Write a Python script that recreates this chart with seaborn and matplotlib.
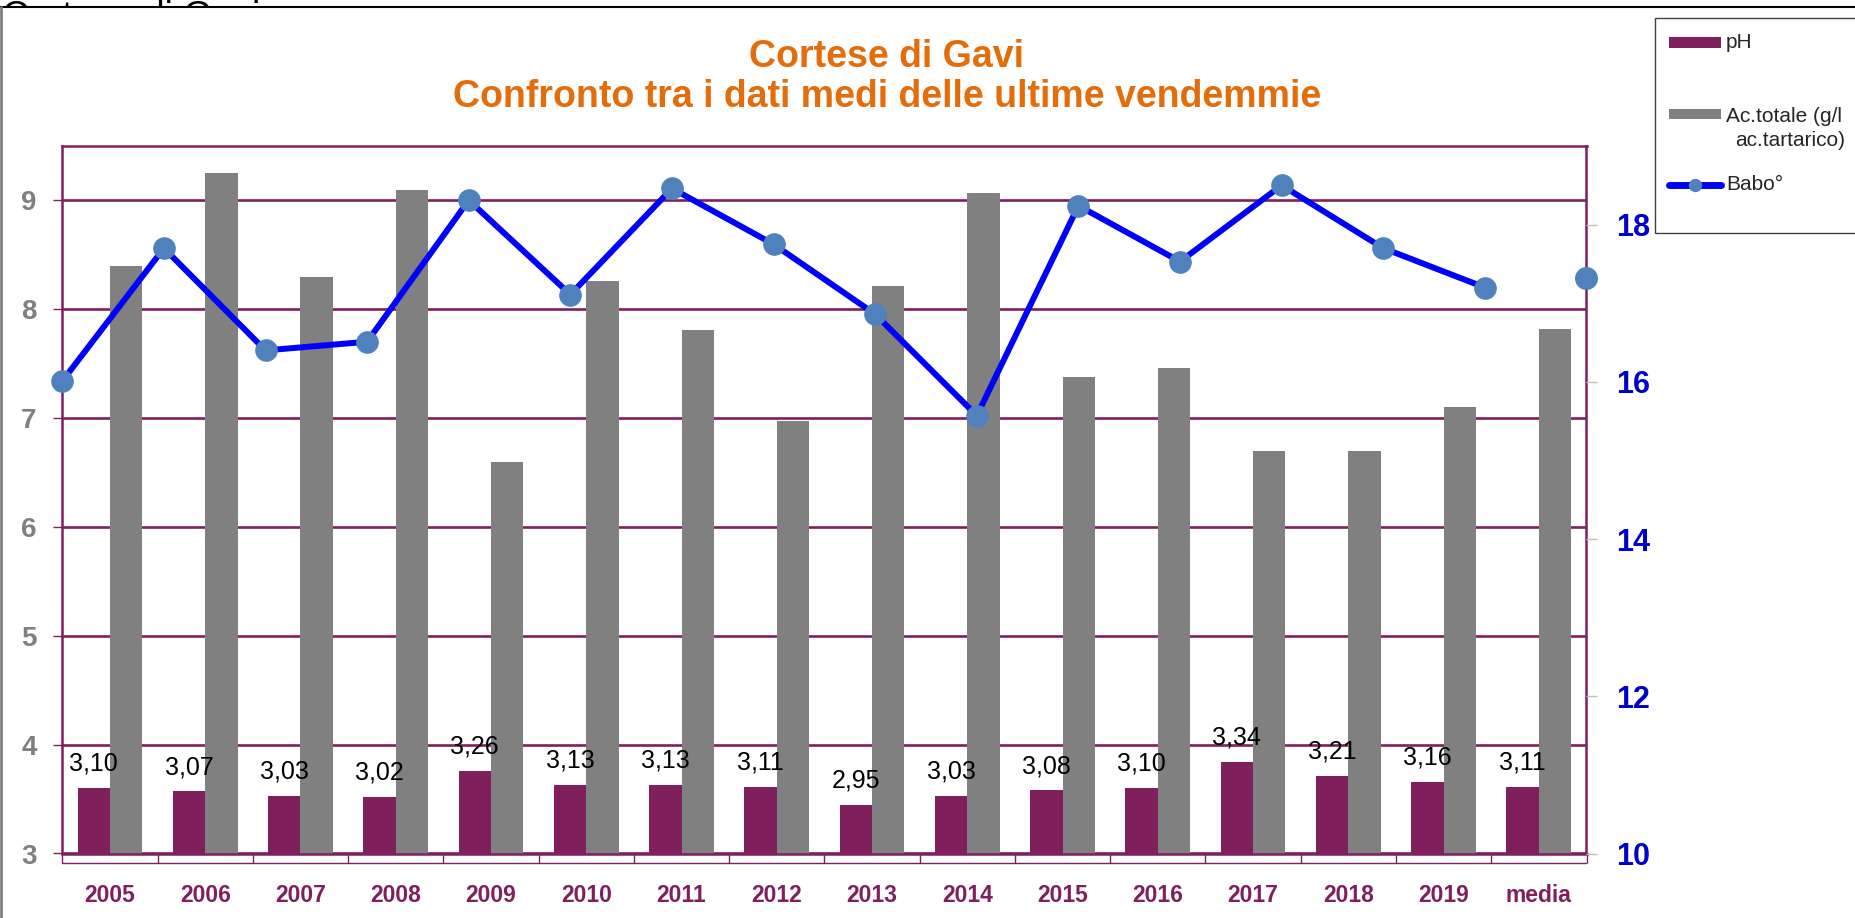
import matplotlib
matplotlib.use('Agg')
import matplotlib.pyplot as plt
import matplotlib.transforms as mtransforms
from matplotlib.lines import Line2D
from matplotlib.patches import Rectangle
import seaborn as sns
import pandas as pd

# ---------------- data ----------------
years = ['2005', '2006', '2007', '2008', '2009', '2010', '2011', '2012',
         '2013', '2014', '2015', '2016', '2017', '2018', '2019', 'media']
ph = [3.10, 3.07, 3.03, 3.02, 3.26, 3.13, 3.13, 3.11,
      2.95, 3.03, 3.08, 3.10, 3.34, 3.21, 3.16, 3.11]
acidita = [8.40, 9.25, 8.30, 9.10, 6.60, 8.26, 7.81, 6.97,
           8.21, 9.07, 7.38, 7.46, 6.70, 6.70, 7.10, 7.82]
babo = [16.01, 17.70, 16.40, 16.51, 18.31, 17.11, 18.46, 17.75,
        16.86, 15.57, 18.24, 17.53, 18.50, 17.70, 17.20, 17.32]
ph_baseline = 0.5          # pH bars in the original sit on a raised baseline
left_ticks = [3, 4, 5, 6, 7, 8, 9]
right_ticks = [10, 12, 14, 16, 18]
series_names = ['pH', 'Ac.totale (g/l ac.tartarico)']

# ---------------- style ----------------
PURPLE = '#7F1F5C'
GREY = '#808080'
BLUE = '#0000FF'
MARK = '#4F81BD'
ORANGE = '#E46C0A'
W, H, DPI = 1856, 918, 100

sns.set_style('white')
plt.rcParams['font.family'] = ['Liberation Sans', 'DejaVu Sans']

fig = plt.figure(figsize=(W / DPI, H / DPI), dpi=DPI)
x0, x1 = 62.3 / W, 1586.5 / W
y0, y1 = 1 - 853.5 / H, 1 - 146 / H
ax = fig.add_axes([x0, y0, x1 - x0, y1 - y0])

df = pd.DataFrame({
    'anno': years * 2,
    'serie': [series_names[0]] * len(years) + [series_names[1]] * len(years),
    'valore': [v + ph_baseline for v in ph] + acidita,
})
sns.barplot(data=df, x='anno', y='valore', hue='serie', order=years,
            hue_order=series_names, palette=[PURPLE, GREY], width=0.68,
            saturation=1, linewidth=0, ax=ax, legend=False, zorder=2)

ax.set_xlim(-0.5, len(years) - 0.5)
ax.set_ylim(3, 9.5)
ax.set_yticks(left_ticks)
ax.set_xlabel('')
ax.set_ylabel('')
ax.set_axisbelow(True)
ax.yaxis.grid(True, color=PURPLE, lw=1.9)
ax.xaxis.grid(False)
for s in ax.spines.values():
    s.set_visible(True)
    s.set_color(PURPLE)
    s.set_linewidth(1.8)

ax.tick_params(axis='y', left=True, length=6.5, width=1, color=PURPLE,
               labelsize=20, labelcolor=GREY, pad=12)
for t in ax.get_yticklabels():
    t.set_fontweight('bold')
ax.set_xticks(range(len(years)))
ax.set_xticklabels(years, fontsize=16.5, fontweight='bold', color=PURPLE)
ax.set_xticks([i - 0.5 for i in range(len(years) + 1)], minor=True)
ax.tick_params(axis='x', which='major', length=0, pad=22)
ax.tick_params(axis='x', which='minor', bottom=True, length=6.5, width=1,
               color=PURPLE, direction='out')
# closing line of the category-axis tick band
band = ax.transAxes + mtransforms.ScaledTranslation(0, -9 / DPI, fig.dpi_scale_trans)
ax.plot([0, 1], [0, 0], transform=band, color=PURPLE, lw=1, clip_on=False)

# pH data labels
for bar, v in zip(ax.containers[0], ph):
    ax.annotate(f"{v:.2f}".replace('.', ','),
                xy=(bar.get_x() + bar.get_width() / 2, bar.get_y() + bar.get_height()),
                xytext=(0, 17.5), textcoords='offset points',
                ha='center', va='center', fontsize=18, color='black', zorder=5)

# ---------------- Babo line on secondary axes ----------------
ax2 = fig.add_axes(ax.get_position(), frameon=False)
n_line = len(years) - 1
sns.lineplot(x=list(range(n_line)), y=babo[:n_line], ax=ax2, color=BLUE,
             lw=4.3, marker='o', markersize=15.5, markerfacecolor=MARK,
             markeredgecolor=MARK, clip_on=False, zorder=4)
ax2.plot([n_line], [babo[n_line]], marker='o', markersize=15.5, color=MARK,
         ls='none', clip_on=False, zorder=4)
ax2.set_xlim(0, n_line)
ax2.set_ylim(10, 19)
ax2.set_xticks([])
ax2.yaxis.tick_right()
ax2.set_yticks(right_ticks)
ax2.tick_params(axis='y', right=True, left=False, length=8, width=1,
                color='#BFBFBF', labelsize=22, labelcolor='#0000CC', pad=13.5)
for t in ax2.get_yticklabels():
    t.set_fontweight('bold')
ax2.set_xlabel('')
ax2.set_ylabel('')
ax2.grid(False)

# ---------------- titles ----------------
fig.text(887 / W, 1 - 57 / H, 'Cortese di Gavi', ha='center', va='center',
         fontsize=27, fontweight='bold', color=ORANGE)
fig.text(887 / W, 1 - 97 / H, 'Confronto tra i dati medi delle ultime vendemmie',
         ha='center', va='center', fontsize=27, fontweight='bold', color=ORANGE)
# heading of the sheet, hidden behind the chart frame except for its top edge
head = fig.text(2 / W, 1 - 28 / H, 'Cortese di Gavi', ha='left', va='baseline',
                fontsize=27, color='black', clip_on=True)
head.set_clip_box(mtransforms.TransformedBbox(
    mtransforms.Bbox([[0, 1 - 6.5 / H], [1, 1]]), fig.transFigure))
fig.add_artist(Line2D([0, 1], [1 - 6.5 / H, 1 - 6.5 / H], transform=fig.transFigure,
                      color='black', lw=1.5))
fig.add_artist(Line2D([1 / W, 1 / W], [0, 1 - 6.5 / H], transform=fig.transFigure,
                      color='#808080', lw=2))

# ---------------- legend ----------------
def fx(px):
    return px / W


def fy(py):
    return 1 - py / H


fig.add_artist(Rectangle((fx(1655), fy(233)), fx(1880) - fx(1655), fy(17.7) - fy(233),
                         transform=fig.transFigure, facecolor='white',
                         edgecolor='#404040', lw=1))
fig.add_artist(Rectangle((fx(1669), fy(47.7)), fx(1721) - fx(1669), fy(37.3) - fy(47.7),
                         transform=fig.transFigure, facecolor=PURPLE, lw=0))
fig.add_artist(Rectangle((fx(1669), fy(119.3)), fx(1721) - fx(1669), fy(108.7) - fy(119.3),
                         transform=fig.transFigure, facecolor=GREY, lw=0))
fig.add_artist(Line2D([fx(1669), fx(1721)], [fy(185), fy(185)], transform=fig.transFigure,
                      color=BLUE, lw=5))
fig.add_artist(Line2D([fx(1695)], [fy(185)], transform=fig.transFigure, marker='o',
                      markersize=8.6, color=MARK, ls='none'))
fig.text(fx(1726), fy(43), 'pH', ha='left', va='center', fontsize=15)
fig.text(fx(1726), fy(116), 'Ac.totale (g/l', ha='left', va='center', fontsize=15)
fig.text(fx(1845), fy(140), 'ac.tartarico)', ha='right', va='center', fontsize=15)
fig.text(fx(1726), fy(185), 'Babo°', ha='left', va='center', fontsize=15)

fig.savefig('out.png', dpi=DPI)
